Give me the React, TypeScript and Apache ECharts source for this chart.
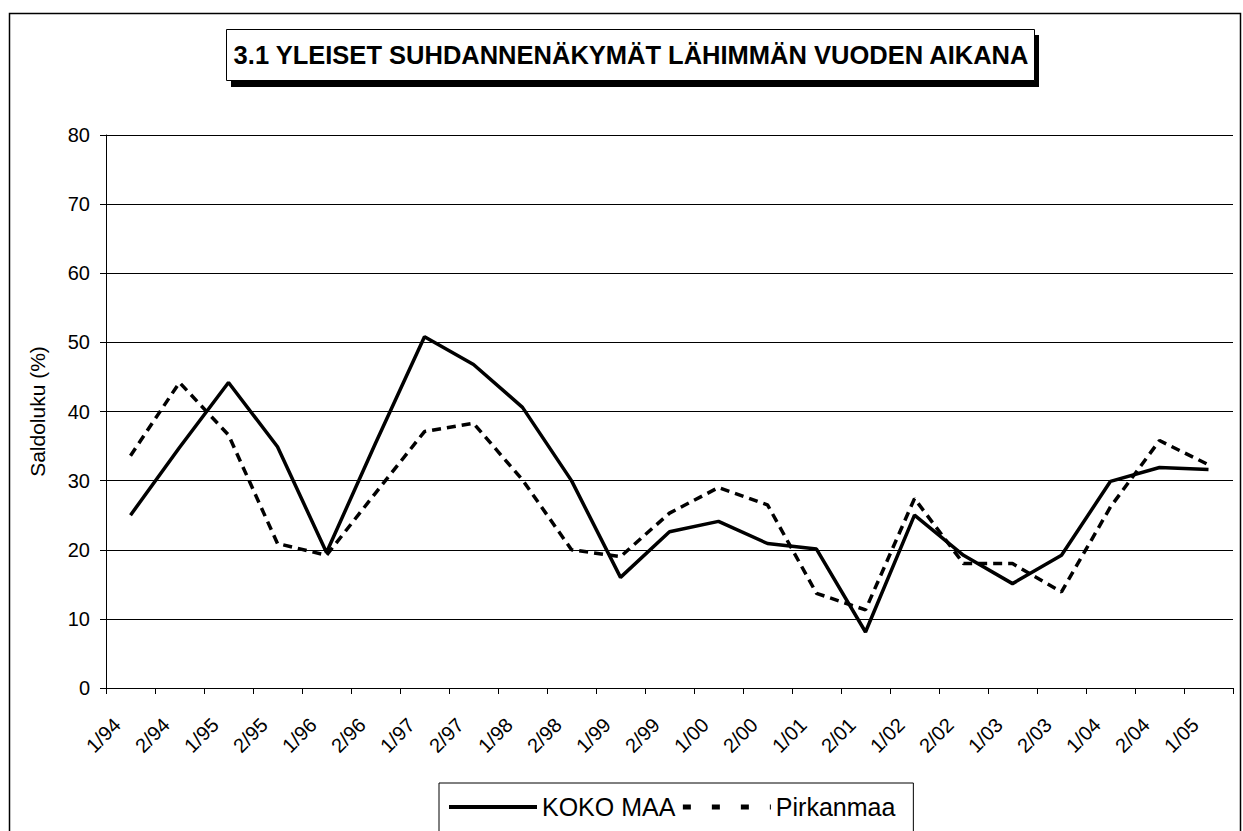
import React, { useEffect, useRef } from "react";
import * as echarts from "echarts";

const categories = [
  "1/94", "2/94", "1/95", "2/95", "1/96", "2/96", "1/97", "2/97", "1/98", "2/98",
  "1/99", "2/99", "1/00", "2/00", "1/01", "2/01", "1/02", "2/02", "1/03", "2/03",
  "1/04", "2/04", "1/05",
];
const kokoMaa = [
  25.0, 34.8, 44.2, 34.9, 19.6, 35.4, 50.8, 46.8, 40.6, 30.0,
  16.0, 22.6, 24.1, 20.9, 20.1, 8.1, 25.0, 19.2, 15.1, 19.2,
  29.9, 31.9, 31.6,
];
const pirkanmaa = [
  33.6, 44.2, 36.6, 20.9, 19.2, 28.2, 37.1, 38.3, 30.1, 20.0,
  19.0, 25.3, 29.0, 26.5, 13.7, 11.3, 27.4, 18.0, 18.0, 13.9,
  26.2, 35.8, 32.3,
];
const seriesNames = ["KOKO MAA", "Pirkanmaa"];
const titleText = "3.1 YLEISET SUHDANNENÄKYMÄT LÄHIMMÄN VUODEN AIKANA";
const yAxisName = "Saldoluku (%)";

const FONT = "'Liberation Sans', Arial, sans-serif";

export default function App() {
  const ref = useRef<HTMLDivElement>(null);
  useEffect(() => {
    if (!ref.current) return;
    const chart = echarts.init(ref.current, null, { renderer: "svg" });
    chart.setOption({
      animation: false,
      backgroundColor: "#ffffff",
      textStyle: { fontFamily: FONT, color: "#000" },
      grid: { left: 106, right: 10, top: 135, bottom: 143, containLabel: false },
      xAxis: {
        type: "category",
        data: categories,
        boundaryGap: true,
        axisLine: { lineStyle: { color: "#000", width: 1 } },
        axisTick: { show: true, length: 6, alignWithLabel: false, lineStyle: { color: "#000" } },
        axisLabel: {
          rotate: 45,
          margin: 20,
          fontSize: 20,
          color: "#000",
          fontFamily: FONT,
          interval: 0,
          formatter: (v: string) => `${v}{gap|}`,
          rich: { gap: { width: 19, fontSize: 20 } },
        },
        splitLine: { show: false },
      },
      yAxis: {
        type: "value",
        min: 0,
        max: 80,
        interval: 10,
        name: yAxisName,
        nameLocation: "middle",
        nameGap: 58,
        nameTextStyle: { fontSize: 21, color: "#000", fontFamily: FONT },
        axisLine: { show: true, lineStyle: { color: "#000", width: 1 } },
        axisTick: { show: true, length: 6, lineStyle: { color: "#000" } },
        axisLabel: { fontSize: 20, color: "#000", margin: 16, fontFamily: FONT },
        splitLine: { show: true, lineStyle: { color: "#000", width: 1 } },
      },
      legend: {
        left: 439,
        top: 783,
        orient: "horizontal",
        padding: [10, 18, 20, 8],
        itemGap: 5,
        itemWidth: 88,
        itemHeight: 14,
        borderColor: "#000",
        borderWidth: 1,
        backgroundColor: "#fff",
        itemStyle: { color: "rgba(0,0,0,0)", borderColor: "rgba(0,0,0,0)", borderWidth: 0, opacity: 0 },
        textStyle: { fontSize: 25, color: "#000", fontFamily: FONT, lineHeight: 28 },
        data: [
          { name: seriesNames[0], lineStyle: { width: 4 } },
          { name: seriesNames[1], lineStyle: { type: [8, 21], width: 5 } },
        ],
      },
      series: [
        {
          name: seriesNames[0],
          type: "line",
          data: kokoMaa,
          symbol: "none",
          lineStyle: { color: "#000", width: 3.5, type: "solid" },
          itemStyle: { color: "#000" },
        },
        {
          name: seriesNames[1],
          type: "line",
          data: pirkanmaa,
          symbol: "none",
          lineStyle: { color: "#000", width: 3.5, type: [9, 6] },
          itemStyle: { color: "#000" },
        },
      ],
      graphic: [
        {
          type: "rect",
          shape: { x: 9.5, y: 13.5, width: 1231, height: 840 },
          style: { fill: "none", stroke: "#000", lineWidth: 1.5 },
          silent: true,
          z: -10,
        },
        {
          type: "rect",
          shape: { x: 231, y: 35, width: 808, height: 52 },
          style: { fill: "#000" },
          silent: true,
        },
        {
          type: "rect",
          shape: { x: 226.5, y: 29.5, width: 808, height: 51 },
          style: { fill: "#fff", stroke: "#000", lineWidth: 1 },
          silent: true,
        },
        {
          type: "text",
          x: 631,
          y: 55,
          style: {
            text: titleText,
            fontSize: 25.5,
            fontWeight: "bold",
            fontFamily: FONT,
            fill: "#000",
            align: "center",
            verticalAlign: "middle",
          },
          silent: true,
        },
      ],
    });
    return () => chart.dispose();
  }, []);
  return (
    <div
      ref={ref}
      style={{ position: "fixed", left: 0, top: 0, width: 1243, height: 831, background: "#fff" }}
    />
  );
}
